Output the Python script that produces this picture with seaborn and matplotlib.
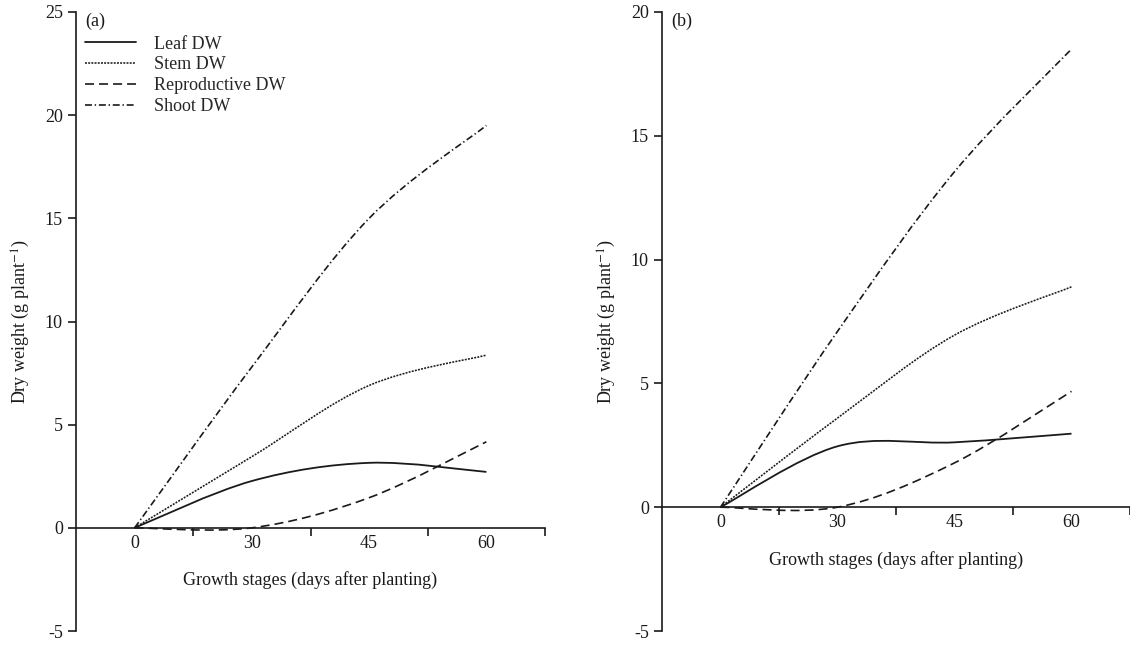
import numpy as np
import pandas as pd
import seaborn as sns
import matplotlib.pyplot as plt
from matplotlib.path import Path
from matplotlib.patches import PathPatch
from matplotlib.lines import Line2D

# Growth stages (days after planting)
days = ["0", "30", "45", "60"]

# (a) dry weight, g plant-1
a_leaf = [0.0, 2.27, 3.15, 2.71]
a_stem = [0.0, 3.45, 6.90, 8.37]
a_repro = [0.0, 0.0, 1.46, 4.17]
a_shoot = [0.0, 7.80, 15.00, 19.50]

# (b) dry weight, g plant-1
b_leaf = [0.0, 2.46, 2.62, 2.97]
b_stem = [0.0, 3.60, 6.95, 8.90]
b_repro = [0.0, 0.0, 1.79, 4.68]
b_shoot = [0.0, 7.10, 13.55, 18.50]

series = ["Leaf DW", "Stem DW", "Reproductive DW", "Shoot DW"]

sns.set_theme(style="ticks")
plt.rcParams["font.family"] = ["Liberation Serif", "DejaVu Serif"]
plt.rcParams["axes.unicode_minus"] = False
plt.rcParams["lines.scale_dashes"] = False
plt.rcParams["mathtext.fontset"] = "stix"

FS = 13
styles = {
    "Leaf DW": dict(linestyle="-", linewidth=1.3),
    "Stem DW": dict(linestyle=(0, (1.4, 0.9)), linewidth=1.15),
    "Reproductive DW": dict(linestyle=(0, (6.5, 3.6)), linewidth=1.2),
    "Shoot DW": dict(linestyle=(0, (5, 2, 1, 2)), linewidth=1.2),
}
ink = "#1a1a1a"


def smooth_path(xs, ys):
    # Excel-style smoothed line: cubic Bezier through each data point
    pts = np.column_stack([xs, ys])
    verts = [pts[0]]
    codes = [Path.MOVETO]
    n = len(pts)
    for i in range(n - 1):
        prev_pt = pts[i - 1] if i > 0 else pts[i]
        next_pt = pts[i + 2] if i + 2 < n else pts[i + 1]
        c1 = pts[i] + (pts[i + 1] - prev_pt) / 6
        c2 = pts[i + 1] - (next_pt - pts[i]) / 6
        verts += [c1, c2, pts[i + 1]]
        codes += [Path.CURVE4] * 3
    return Path(verts, codes)


def draw_panel(ax, df, ylim, tag, legend=False):
    xs = np.arange(len(df))
    for name in series:
        ax.add_patch(PathPatch(smooth_path(xs, df[name].values), fill=False,
                               edgecolor=ink, capstyle="butt", **styles[name]))

    sns.despine(ax=ax)
    ax.spines["bottom"].set_position(("data", 0))
    for s in ["left", "bottom"]:
        ax.spines[s].set_linewidth(1.2)
        ax.spines[s].set_color(ink)

    ax.set_xlim(-0.5, len(df) - 0.5)
    ax.set_ylim(*ylim)
    ax.set_xticks(xs)
    ax.set_xticklabels(df["Days"])
    ax.set_xticks(xs + 0.5, minor=True)
    ax.tick_params(axis="x", which="major", length=0, pad=5, labelsize=FS, colors=ink)
    ax.tick_params(axis="x", which="minor", length=6, width=1.2, direction="out", color=ink)
    ax.set_yticks(np.arange(ylim[0], ylim[1] + 1, 5))
    ax.tick_params(axis="y", length=6, width=1.2, direction="out", labelsize=FS, colors=ink)

    ax.set_xlabel("Growth stages (days after planting)", fontsize=FS, labelpad=14, color=ink)
    ax.set_ylabel("Dry weight (g plant$^{-1}$)", fontsize=FS, labelpad=9, color=ink)
    ax.text(0.02, 0.999, tag, transform=ax.transAxes, ha="left", va="top",
            fontsize=FS, color=ink)

    if legend:
        handles = [Line2D([], [], color=ink, **styles[name]) for name in series]
        ax.legend(handles, series, loc="upper left", bbox_to_anchor=(0.019, 0.962),
                  frameon=False, fontsize=FS, handlelength=2.85, handletextpad=1.0,
                  labelspacing=0.22, borderpad=0, borderaxespad=0)


df_a = pd.DataFrame({"Days": days, "Leaf DW": a_leaf, "Stem DW": a_stem,
                     "Reproductive DW": a_repro, "Shoot DW": a_shoot})
df_b = pd.DataFrame({"Days": days, "Leaf DW": b_leaf, "Stem DW": b_stem,
                     "Reproductive DW": b_repro, "Shoot DW": b_shoot})

fig = plt.figure(figsize=(11.3, 6.45), dpi=100)
ax_a = fig.add_axes([76 / 1130, 14 / 645, 469 / 1130, 619 / 645])
ax_b = fig.add_axes([662 / 1130, 14 / 645, 468 / 1130, 619 / 645])

draw_panel(ax_a, df_a, (-5, 25), "(a)", legend=True)
draw_panel(ax_b, df_b, (-5, 20), "(b)")

fig.savefig("out.png", dpi=100)
